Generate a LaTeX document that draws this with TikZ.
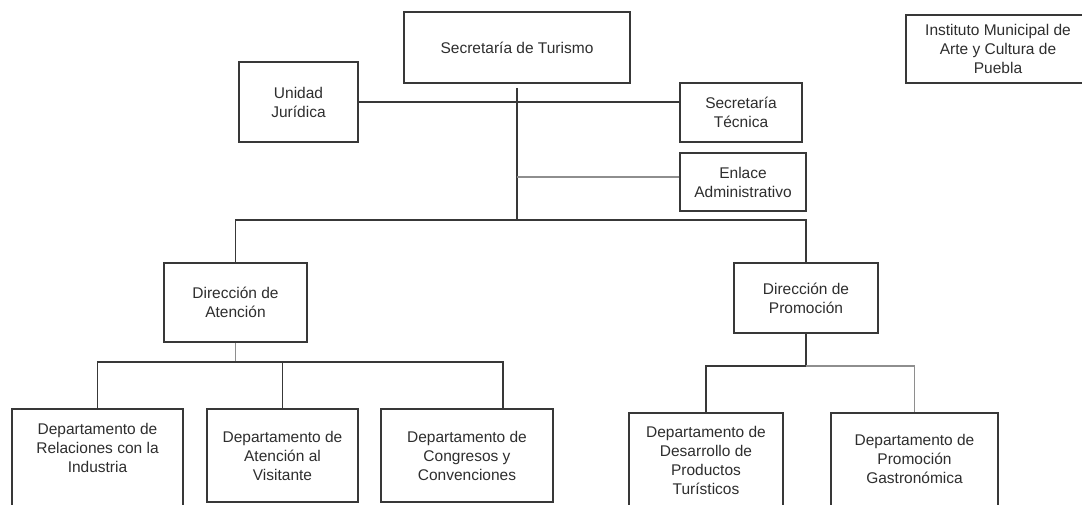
\documentclass[tikz,border=0pt]{standalone}
\usepackage{fontspec}
\setmainfont{Liberation Sans}
\definecolor{linea}{HTML}{383838}
\definecolor{lineaclara}{HTML}{8E8E8E}
\definecolor{texto}{HTML}{2E2E2E}
\tikzset{
  caja/.style={draw=linea, line width=1.6pt, fill=white, inner sep=0pt, align=center,
    text=texto, font=\fontsize{15.5}{19}\selectfont},
  letrero/.style={inner sep=0pt, align=center, text=texto, font=\fontsize{15.5}{19}\selectfont},
  enlace/.style={draw=linea, line width=1.6pt},
  enlaceclaro/.style={draw=lineaclara, line width=1.2pt}
}
\begin{document}
\begin{tikzpicture}[x=1pt,y=-1pt]

\pgfmathsetmacro{\ybarra}{220}
\pgfmathsetmacro{\xcentro}{517}

\useasboundingbox (0,0) rectangle (1082,504);
\clip (0,0) rectangle (1082,504);

% Top boxes:
\node[caja, minimum width=226, minimum height=71] (sec) at (\xcentro,47.5) {Secretaría de Turismo};
\node[caja, minimum width=119, minimum height=80] (uni) at (298.5,102) {Unidad\\Jurídica};
\node[caja, minimum width=122, minimum height=59] (tec) at (741,112.5) {Secretaría\\Técnica};
\node[caja, minimum width=126, minimum height=58] (enl) at (743,182) {Enlace\\Administrativo};
\node[caja, minimum width=184, minimum height=68] (ins) at (998,49) {Instituto Municipal de\\Arte y Cultura de\\Puebla};

% Directions:
\node[caja, minimum width=143, minimum height=79] (dat) at (235.5,302.5) {Dirección de\\Atención};
\node[caja, minimum width=144, minimum height=70] (dpr) at (806,298) {Dirección de\\Promoción};

% Departments (some run off the bottom edge):
\node[caja, minimum width=171, minimum height=112, anchor=north] (rel) at (97.5,408) {};
\node[letrero] (reltxt) at (97.5,448) {Departamento de\\Relaciones con la\\Industria};
\node[caja, minimum width=151, minimum height=93] (vis) at (282.5,455.5) {Departamento de\\Atención al\\Visitante};
\node[caja, minimum width=172, minimum height=93] (con) at (467,455.5) {Departamento de\\Congresos y\\Convenciones};
\node[caja, minimum width=154, minimum height=112, anchor=north] (des) at (706,412) {};
\node[letrero] (destxt) at (706,460.5) {Departamento de\\Desarrollo de\\Productos\\Turísticos};
\node[caja, minimum width=167, minimum height=112, anchor=north] (gas) at (914.5,412) {};
\node[letrero] (gastxt) at (914.5,459) {Departamento de\\Promoción\\Gastronómica};

% Main trunk:
\coordinate (bar) at (\xcentro,\ybarra);
\coordinate (enlj) at (\xcentro,177);
\draw[enlace, shorten <=4pt] (sec.south) -- (bar);
\draw[enlace] (uni.east) -- (uni.east -| tec.west);
\draw[enlaceclaro] (enlj) -- (enlj -| enl.west);
\draw[enlace] (dat.north) |- (bar) -| (dpr.north);

% Under Dirección de Atención:
\coordinate (atj) at (235.5,362);
\draw[enlaceclaro] (dat.south) -- (atj);
\draw[enlace] (rel.north) |- (atj) -| ([xshift=36pt]con.north);
\draw[enlace] (vis.north) -- (vis.north |- atj);

% Under Dirección de Promoción:
\coordinate (prj) at (806,366);
\draw[enlace] (dpr.south) -- (prj);
\draw[enlace] (des.north) |- (prj);
\draw[enlaceclaro] (prj) -| (gas.north);

\end{tikzpicture}
\end{document}
